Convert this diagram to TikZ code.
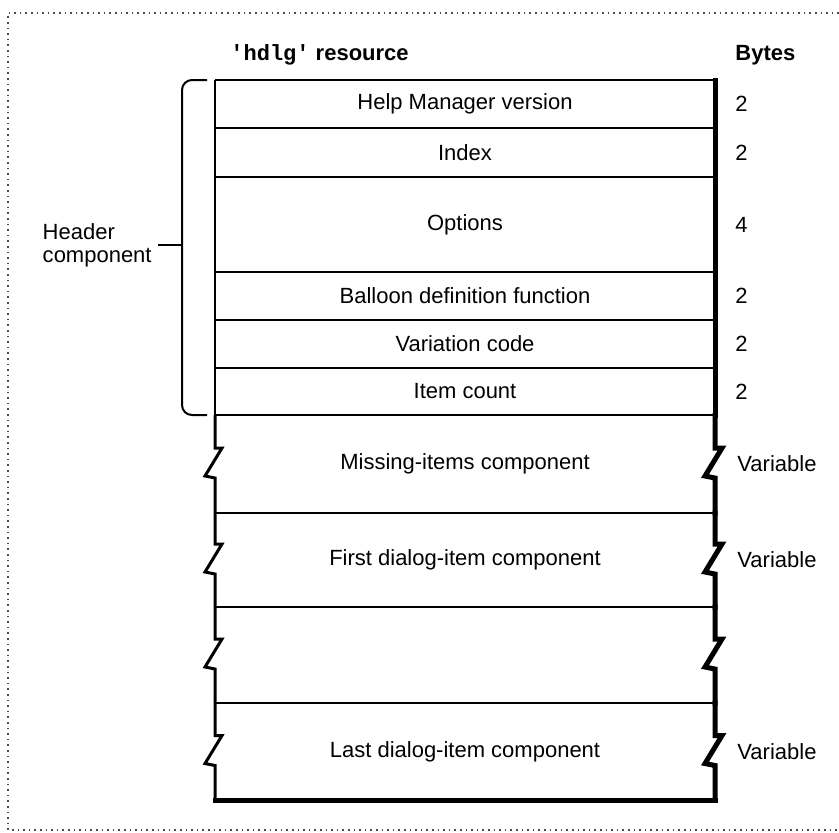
\documentclass[tikz,border=0pt]{standalone}
\usepackage{fontspec}
\setmainfont{Liberation Sans}
\newfontfamily\monofont{Liberation Mono}
\usetikzlibrary{positioning}

\begin{document}
\begin{tikzpicture}[
		x=0.5pt, y=-0.5pt,
		node distance=0pt,
		row/.style={rectangle, minimum width=250pt, inner sep=0pt, outer sep=0pt, font=\fontsize{11}{13}\selectfont},
		bytes/.style={anchor=west, inner sep=0pt, font=\fontsize{11}{13}\selectfont},
		heading/.style={anchor=west, inner sep=0pt, font=\fontsize{11}{13}\selectfont\bfseries},
		thinline/.style={line width=1pt},
		jagline/.style={line width=1.5pt, line join=miter},
		thickline/.style={line width=2.5pt, line join=miter, line cap=rect},
		frameline/.style={dotted, line width=0.8pt, black!70}
	]

	\useasboundingbox (0,0) rectangle (839,832);

	% Frame
	\draw[frameline] (839,13) -- (8,13) -- (8,830) -- (839,830);

	% Headings
	\node[heading] (title) at (230,55) {{\monofont 'hdlg'} resource};
	\node[heading] (bytehead) at (735,55) {Bytes};

	% Rows
	\node[row, minimum height=24pt] (ver) at (465,104) {Help Manager version};
	\node[row, minimum height=24.5pt, below=of ver] (idx) {Index};
	\node[row, minimum height=47.5pt, below=of idx] (opt) {Options};
	\node[row, minimum height=24pt, below=of opt] (bdf) {Balloon definition function};
	\node[row, minimum height=24pt, below=of bdf] (var) {Variation code};
	\node[row, minimum height=23.5pt, below=of var] (cnt) {Item count};
	\node[row, minimum height=49pt, below=of cnt] (miss) {Missing-items component};
	\node[row, minimum height=47pt, below=of miss] (first) {First dialog-item component};
	\node[row, minimum height=48pt, below=of first] (blank) {};
	\node[row, minimum height=48.5pt, below=of blank] (last) {Last dialog-item component};

	% Sizes
	\node[bytes, right=10pt of ver] {2};
	\node[bytes, right=10pt of idx] {2};
	\node[bytes, right=10pt of opt] {4};
	\node[bytes, right=10pt of bdf] {2};
	\node[bytes, right=10pt of var] {2};
	\node[bytes, right=10pt of cnt] {2};
	\node[bytes, right=11pt of miss] {Variable};
	\node[bytes, right=11pt of first] {Variable};
	\node[bytes, right=11pt of last] {Variable};

	% Box outline
	\draw[thinline] (ver.north west) -- (ver.north east);
	\draw[thinline] (ver.north west) -- (cnt.south west);
	\foreach \r in {ver,idx,opt,bdf,var,cnt,miss,first,blank}
		\draw[thinline] (\r.south west) -- (\r.south east);
	\draw[thickline] (ver.north east) -- (cnt.south east);
	\foreach \r in {miss,first,blank,last} {
		\draw[jagline] (\r.north west) -- ([yshift=8pt]\r.west) -- ++(7,0) -- ++(-17,28) -- ++(10,2) -- (\r.south west);
		\draw[thickline] (\r.north east) -- ([yshift=8pt]\r.east) -- ++(7,0) -- ++(-17,28) -- ++(10,2) -- (\r.south east);
	}
	\draw[thickline] (last.south west) -- (last.south east);

	% Header brace
	\node[align=left, anchor=east, inner sep=0pt, font=\fontsize{11}{11.5}\selectfont] (hdr) at (152,245) {Header\\component};
	\coordinate[left=16.5pt of ver.north west] (bracetop);
	\coordinate[left=16.5pt of cnt.south west] (bracebot);
	\draw[thinline, rounded corners=5pt] ([xshift=-4pt]ver.north west) -- (bracetop) -- (bracebot) -- ([xshift=-4pt]cnt.south west);
	\draw[thinline] ([xshift=3pt]hdr.east) -- (hdr.east -| bracetop);

\end{tikzpicture}
\end{document}
